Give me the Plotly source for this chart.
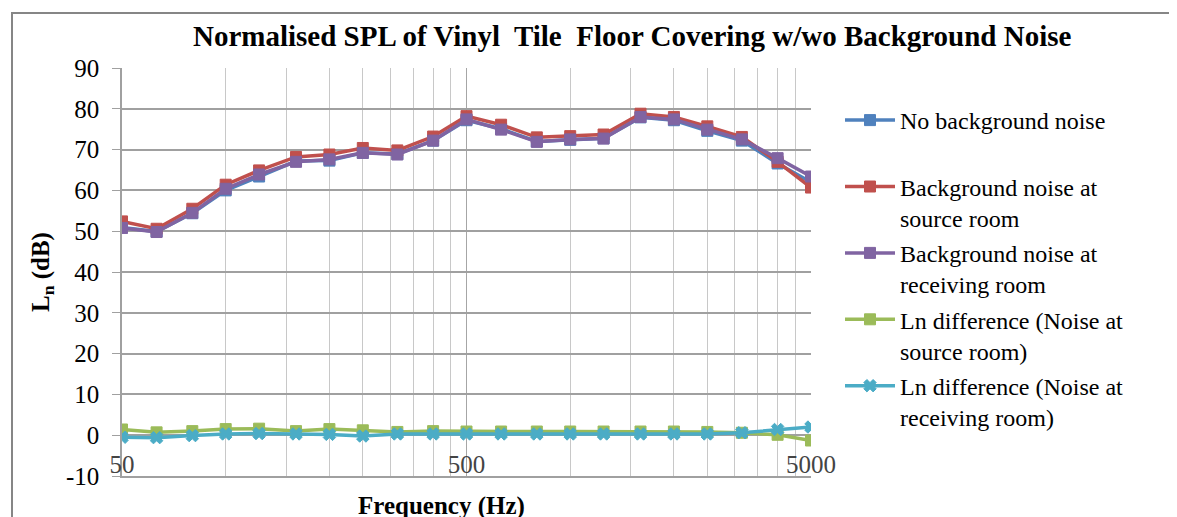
import plotly.graph_objs as go

# third-octave band centre frequencies (Hz)
freqs = [50, 63, 80, 100, 125, 160, 200, 250, 315, 400, 500,
         630, 800, 1000, 1250, 1600, 2000, 2500, 3150, 4000, 5000]

no_noise = [50.9, 49.9, 54.4, 60.0, 63.4, 67.2, 67.3, 69.2, 68.9, 72.2, 77.2,
            75.1, 72.0, 72.4, 72.8, 77.9, 77.2, 74.6, 72.2, 66.6, 62.0]
noise_source = [52.4, 50.6, 55.5, 61.4, 64.9, 68.2, 68.8, 70.4, 69.8, 73.2, 78.2,
                76.1, 73.0, 73.3, 73.7, 78.8, 78.0, 75.7, 73.1, 67.0, 60.7]
noise_receiving = [50.8, 49.8, 54.5, 60.4, 63.9, 67.0, 67.6, 69.2, 68.8, 72.2, 77.4,
                   74.9, 71.9, 72.5, 72.7, 78.0, 77.4, 74.9, 72.5, 67.9, 63.4]
diff_source = [1.4, 0.7, 1.0, 1.5, 1.6, 1.0, 1.5, 1.2, 0.8, 1.0, 0.9,
               0.9, 0.9, 0.9, 0.9, 0.9, 0.9, 0.8, 0.6, 0.1, -1.3]
diff_receiving = [-0.5, -0.6, -0.1, 0.3, 0.4, 0.3, 0.2, -0.2, 0.3, 0.3, 0.3,
                  0.3, 0.3, 0.3, 0.3, 0.3, 0.3, 0.3, 0.6, 1.4, 2.0]

x_ticks = [50, 500, 5000]
x_tick_labels = ['50', '500', '5000']
y_ticks = [-10, 0, 10, 20, 30, 40, 50, 60, 70, 80, 90]
y_tick_labels = ['-10', '0', '10', '20', '30', '40', '50', '60', '70', '80', '90']

series = [
    ('No background noise<br> ', no_noise, '#4F81BD', 'square'),
    ('Background noise at<br>source room', noise_source, '#C0504D', 'square'),
    ('Background noise at<br>receiving room', noise_receiving, '#8064A2', 'square'),
    ('Ln difference (Noise at<br>source room)', diff_source, '#9BBB59', 'square'),
    ('Ln difference (Noise at<br>receiving room)', diff_receiving, '#4BACC6', 'x'),
]

FONT = 'Liberation Serif'

# page body adds an 8px margin, so the figure is drawn 8px in from the corner
W, H = 1169, 509
L, T, PW, PH = 114, 60, 689, 408

fig = go.Figure()
for i, (name, vals, color, sym) in enumerate(series):
    fig.add_trace(go.Scatter(
        x=freqs, y=vals, name=name, mode='lines+markers',
        legendgroup=str(i),
        line=dict(color=color, width=3.5),
        marker=dict(symbol=sym, size=11, color=color,
                    line=dict(color=color, width=1)),
    ))

# minor gridlines at multiples of 50 (Excel log axis style)
minor_vals = [50 * k for k in range(2, 10)] + [500 * k for k in range(2, 10)]

fig.update_layout(
    width=W, height=H,
    margin=dict(l=L, r=W - L - PW, t=T, b=H - T - PH),
    paper_bgcolor='white', plot_bgcolor='white',
    font=dict(family=FONT, size=25, color='black'),
    showlegend=True,
    legend=dict(x=(840 - 122) / PW, xanchor='left', y=1 - (98 - 68) / PH, yanchor='top',
                font=dict(family=FONT, size=24), valign='top',
                itemwidth=50,
                tracegroupgap=1, bgcolor='rgba(0,0,0,0)'),
    xaxis=dict(type='log', range=[1.69897, 3.69897],
               tickvals=x_ticks, ticktext=x_tick_labels,
               ticks='', ticklabelposition='inside', ticklabeloverflow='allow',
               tickfont=dict(family=FONT, size=25),
               showgrid=True, gridcolor='#A6A6A6', gridwidth=1,
               minor=dict(tickvals=minor_vals, showgrid=True,
                          gridcolor='#C8C8C8', gridwidth=1, ticks=''),
               showline=True, linecolor='#A0A0A0', linewidth=1.5,
               zeroline=False),
    yaxis=dict(range=[-10, 90], tickvals=y_ticks, ticktext=y_tick_labels,
               ticks='outside', ticklen=8, tickcolor='#A0A0A0',
               ticklabelstandoff=8,
               tickfont=dict(family=FONT, size=25),
               showgrid=True, gridcolor='#A0A0A0', gridwidth=1.5,
               showline=True, linecolor='#A0A0A0', linewidth=1.5,
               zeroline=False),
    annotations=[
        dict(text='<b>Normalised SPL of Vinyl  Tile  Floor Covering w/wo Background Noise</b>',
             xref='paper', yref='paper', x=(632 - 122) / PW, y=1 + (68 - 36) / PH,
             xanchor='center', yanchor='middle', showarrow=False,
             font=dict(family=FONT, size=29)),
        dict(text='<b>L<sub>n</sub> (dB)</b>', textangle=-90,
             xref='paper', yref='paper', x=(42 - 122) / PW, y=0.5,
             xanchor='center', yanchor='middle', showarrow=False,
             font=dict(family=FONT, size=25)),
        dict(text='<b>Frequency (Hz)</b>',
             xref='paper', yref='paper', x=(441 - 122) / PW, y=-(506 - 476) / PH,
             xanchor='center', yanchor='middle', showarrow=False,
             font=dict(family=FONT, size=25)),
    ],
    shapes=[
        dict(type='rect', xref='paper', yref='paper',
             x0=(12 - 122) / PW, x1=(1200 - 122) / PW,
             y0=-0.3, y1=1 + (68 - 13) / PH,
             line=dict(color='#868686', width=2), layer='below'),
    ],
)

fig.write_html('out.html')
